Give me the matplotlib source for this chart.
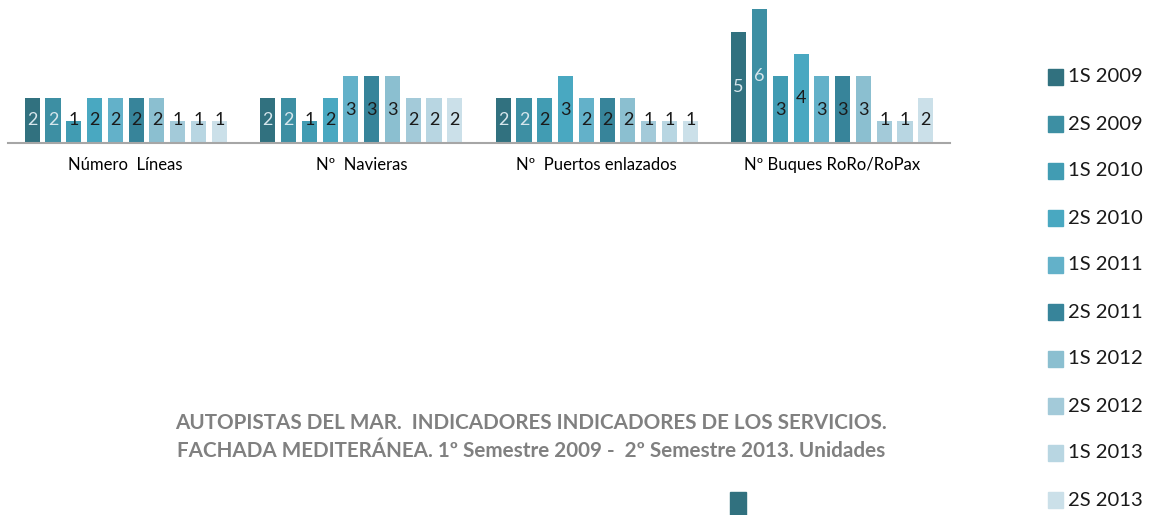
import numpy as np
import matplotlib
matplotlib.use('Agg')
import matplotlib.pyplot as plt
from matplotlib.patches import Rectangle

plt.rcParams['font.family'] = ['Lato', 'DejaVu Sans']

categories = ['Número  Líneas', 'Nº  Navieras', 'Nº  Puertos enlazados', 'Nº Buques RoRo/RoPax']
series = ['1S 2009', '2S 2009', '1S 2010', '2S 2010', '1S 2011',
          '2S 2011', '1S 2012', '2S 2012', '1S 2013', '2S 2013']
# values[serie][categoria]
values = [
    [2, 2, 2, 5],
    [2, 2, 2, 6],
    [1, 1, 2, 3],
    [2, 2, 3, 4],
    [2, 3, 2, 3],
    [2, 3, 2, 3],
    [2, 3, 2, 3],
    [1, 2, 1, 1],
    [1, 2, 1, 1],
    [1, 2, 1, 2],
]
colors = ['#31717f', '#3d8fa3', '#419cb3', '#49a8c1', '#63b1c9',
          '#37849a', '#8bbfd0', '#a3cad9', '#b8d6e2', '#cbe0e9']
label_colors = ['#d6e6ec', '#d6e6ec'] + ['#1a1a1a'] * 8

fig = plt.figure(figsize=(11.55, 5.15), dpi=100)
ax = fig.add_axes([8/1155, 1 - 143/515, 942/1155, 138/515])

x = np.arange(len(categories))
step = 0.0883
width = 0.064
for i, s in enumerate(series):
    pos = x + (i - 4.5) * step
    bars = ax.bar(pos, values[i], width, color=colors[i], label=s)
    for p, v in zip(pos, values[i]):
        ax.text(p, max(v / 2, 1.05), str(v), ha='center', va='center',
                fontsize=13, color=label_colors[i])

ax.set_xlim(-0.5, 3.5)
ax.set_ylim(0, 6.2)
ax.set_xticks(x)
ax.set_xticklabels(categories, fontsize=12)
ax.tick_params(axis='x', length=0, pad=10)
ax.set_yticks([])
for sp in ['top', 'right', 'left']:
    ax.spines[sp].set_visible(False)
ax.spines['bottom'].set_color('#a6a6a6')
ax.spines['bottom'].set_linewidth(1.5)

# leyenda a la derecha
for i, s in enumerate(series):
    yc = 77 + 47 * i
    fig.patches.append(Rectangle((1048/1155, 1 - (yc + 8)/515), 15/1155, 16/515,
                                 transform=fig.transFigure, color=colors[i]))
    fig.text(1068/1155, 1 - yc/515, s, fontsize=14.6, va='center', ha='left', color='#1a1a1a')

fig.text(531/1155, 1 - 437/515,
         'AUTOPISTAS DEL MAR.  INDICADORES INDICADORES DE LOS SERVICIOS.\n'
         'FACHADA MEDITERÁNEA. 1º Semestre 2009 -  2º Semestre 2013. Unidades',
         ha='center', va='center', fontsize=14.9, fontweight='bold', color='#808080',
         linespacing=1.55)

# trozo suelto de barra en el borde inferior
fig.patches.append(Rectangle((730/1155, 0), 16/1155, 23/515,
                             transform=fig.transFigure, color=colors[0]))

fig.savefig('out.png', dpi=100)
